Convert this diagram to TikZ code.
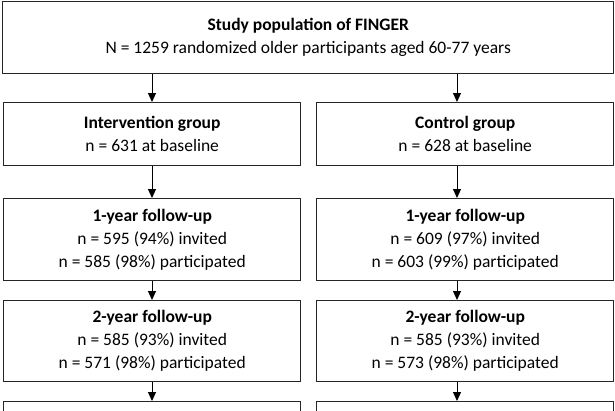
\documentclass[tikz,border=0pt]{standalone}
\usepackage{fontspec}
\setmainfont{Carlito}
\usetikzlibrary{arrows.meta}

\begin{document}
\begin{tikzpicture}[x=1pt, y=-1pt,
  box/.style={draw=black!85, line width=1.4pt, fill=white, inner sep=0pt,
    anchor=north west, align=center, font=\fontsize{17.5}{23}\selectfont},
  flow/.style={-{Triangle[length=9pt,width=8pt]}, line width=1pt}]

% Page frame
\useasboundingbox (0,0) rectangle (615,410);
\clip (0,0) rectangle (615,410);

\def \boxW {297}
\def \xL {3}
\def \xR {316}

% Arrow columns
\coordinate (colL) at (152,0);
\coordinate (colR) at (457,0);

% Study population
\node[box, minimum width=611, minimum height=72] (pop) at (2,1)
  {\textbf{Study population of FINGER}\\N = 1259 randomized older participants aged 60-77 years};

% Randomized groups
\node[box, minimum width=\boxW, minimum height=63] (int) at (\xL,102)
  {\textbf{Intervention group}\\n = 631 at baseline};
\node[box, minimum width=\boxW, minimum height=63] (ctl) at (\xR,102)
  {\textbf{Control group}\\n = 628 at baseline};

% 1-year follow-up
\node[box, minimum width=\boxW, minimum height=82] (intA) at (\xL,198)
  {\textbf{1-year follow-up}\\n = 595 (94\%) invited\\n = 585 (98\%) participated};
\node[box, minimum width=\boxW, minimum height=82] (ctlA) at (\xR,198)
  {\textbf{1-year follow-up}\\n = 609 (97\%) invited\\n = 603 (99\%) participated};

% 2-year follow-up
\node[box, minimum width=\boxW, minimum height=81] (intB) at (\xL,300)
  {\textbf{2-year follow-up}\\n = 585 (93\%) invited\\n = 571 (98\%) participated};
\node[box, minimum width=\boxW, minimum height=81] (ctlB) at (\xR,300)
  {\textbf{2-year follow-up}\\n = 585 (93\%) invited\\n = 573 (98\%) participated};

% next row, cut off by the page
\node[box, minimum width=\boxW, minimum height=60] (intC) at (\xL,401) {};
\node[box, minimum width=\boxW, minimum height=60] (ctlC) at (\xR,401) {};

% Arrows
\draw[flow] (pop.south -| colL) -- (int.north -| colL);
\draw[flow] (pop.south -| colR) -- (ctl.north -| colR);
\draw[flow] (int.south -| colL) -- (intA.north -| colL);
\draw[flow] (ctl.south -| colR) -- (ctlA.north -| colR);
\draw[flow] (intA.south -| colL) -- (intB.north -| colL);
\draw[flow] (ctlA.south -| colR) -- (ctlB.north -| colR);
\draw[flow] (intB.south -| colL) -- (intC.north -| colL);
\draw[flow] (ctlB.south -| colR) -- (ctlC.north -| colR);

\end{tikzpicture}
\end{document}
